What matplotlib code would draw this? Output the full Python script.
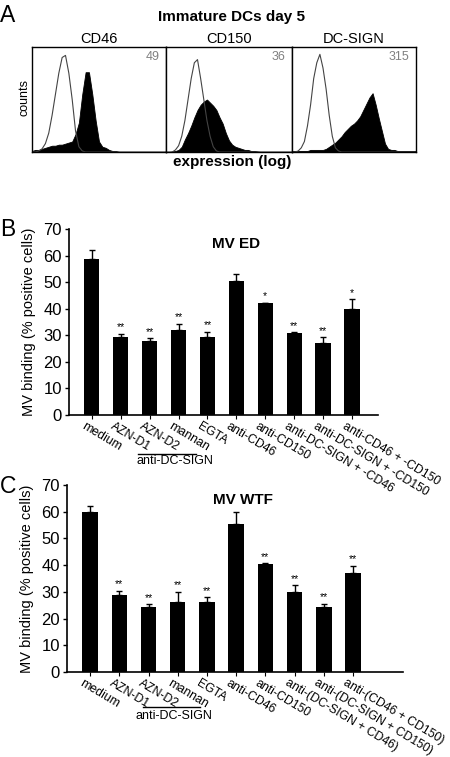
import numpy as np
import matplotlib
matplotlib.use('Agg')
import matplotlib.pyplot as plt
from matplotlib.lines import Line2D

plt.rcParams['font.family'] = ['Liberation Sans', 'DejaVu Sans']

# ---- panel A: flow cytometry histograms (heights read per channel, 41 channels) ----
hist_titles = ['CD46', 'CD150', 'DC-SIGN']
hist_mfi = ['49', '36', '315']
iso_cd46 = [0, 0, 1, 3, 8, 18, 35, 55, 75, 90, 92, 75, 50, 20, 5, 1, 0, 0, 0, 0, 0,
            0, 0, 0, 0, 0, 0, 0, 0, 0, 0, 0, 0, 0, 0, 0, 0, 0, 0, 0, 0]
pos_cd46 = [1, 2, 2, 3, 4, 5, 6, 6, 7, 7, 8, 9, 10, 17, 28, 55, 76, 76, 55, 30, 10,
            5, 4, 2, 1, 1, 0, 0, 0, 0, 0, 0, 0, 0, 0, 0, 0, 0, 0, 0, 0]
iso_cd150 = [0, 0, 0, 2, 6, 15, 30, 50, 70, 85, 88, 70, 50, 30, 15, 5, 1, 0, 0, 0, 0,
             0, 0, 0, 0, 0, 0, 0, 0, 0, 0, 0, 0, 0, 0, 0, 0, 0, 0, 0, 0]
pos_cd150 = [0, 0, 0.5, 1, 2, 5, 12, 18, 25, 33, 40, 45, 48, 50, 47, 44, 40, 33, 27, 18, 11,
             7, 5, 4, 3, 2, 2, 1, 1, 0.5, 0, 0, 0, 0, 0, 0, 0, 0, 0, 0, 0]
iso_dcsign = [0, 0, 1, 4, 10, 25, 45, 70, 85, 93, 80, 60, 35, 15, 4, 1, 0, 0, 0, 0, 0,
              0, 0, 0, 0, 0, 0, 0, 0, 0, 0, 0, 0, 0, 0, 0, 0, 0, 0, 0, 0]
pos_dcsign = [1, 1, 1, 1, 1, 1, 2, 2, 2, 2, 2, 3, 5, 7, 9, 12, 15, 19, 22, 25, 27,
              30, 34, 40, 46, 52, 56, 45, 32, 20, 8, 3, 2, 2, 1, 1, 1, 1, 1, 1, 1]
iso_all = [iso_cd46, iso_cd150, iso_dcsign]
pos_all = [pos_cd46, pos_cd150, pos_dcsign]

# ---- panels B and C: binding bars ----
labels_b = ['medium', 'AZN-D1', 'AZN-D2', 'mannan', 'EGTA', 'anti-CD46', 'anti-CD150',
            'anti-DC-SIGN + -CD46', 'anti-DC-SIGN + -CD150', 'anti-CD46 + -CD150']
labels_c = ['medium', 'AZN-D1', 'AZN-D2', 'mannan', 'EGTA', 'anti-CD46', 'anti-CD150',
            'anti-(DC-SIGN + CD46)', 'anti-(DC-SIGN + CD150)', 'anti-(CD46 + CD150)']
ed_mean = [58.8, 29.5, 27.7, 32.0, 29.3, 50.3, 42.0, 30.8, 27.0, 39.8]
ed_err = [3.2, 1.0, 1.1, 2.3, 2.0, 2.7, 0.3, 0.4, 2.2, 3.8]
ed_sig = ['', '**', '**', '**', '**', '', '*', '**', '**', '*']
wtf_mean = [60.0, 29.0, 24.2, 26.3, 26.2, 55.5, 40.5, 30.0, 24.5, 37.0]
wtf_err = [2.2, 1.4, 1.1, 3.7, 1.8, 4.5, 0.2, 2.5, 1.0, 2.8]
wtf_sig = ['', '**', '**', '**', '**', '', '**', '**', '**', '**']
yticks = [0, 10, 20, 30, 40, 50, 60, 70]

W, H = 450, 757
fig = plt.figure(figsize=(W / 100, H / 100), dpi=100)


def px_ax(x0, y0, x1, y1):
    # axes rectangle from pixel coords (top-left origin)
    return fig.add_axes([x0 / W, 1 - y1 / H, (x1 - x0) / W, (y1 - y0) / H])


def ftxt(x, y, s, **kw):
    fig.text(x / W, 1 - y / H, s, **kw)


# panel A
edges = [(32, 166), (166, 292), (292, 416)]
for k in range(3):
    ax = px_ax(edges[k][0], 47, edges[k][1], 152)
    ch = np.arange(len(iso_all[k]))
    ax.fill_between(ch, pos_all[k], 0, color='black', lw=0.6)
    ax.plot(ch, iso_all[k], color='#444444', lw=0.8)
    ax.set_xlim(0, 40)
    ax.set_ylim(0, 100)
    ax.set_xticks([])
    ax.set_yticks([])
    for s in ax.spines.values():
        s.set_linewidth(1.0)
    ax.text(0.95, 0.9, hist_mfi[k], transform=ax.transAxes, ha='right', va='center',
            fontsize=9, color='#808080')
    ftxt((edges[k][0] + edges[k][1]) / 2, 39, hist_titles[k], ha='center', va='center',
         fontsize=10.5)

ftxt(8, 16, 'A', ha='center', va='center', fontsize=16.5)
ftxt(231, 17, 'Immature DCs day 5', ha='center', va='center', fontsize=11, fontweight='bold')
ftxt(25, 98, 'counts', ha='center', va='center', fontsize=9, rotation=90)
ftxt(232, 162, 'expression (log)', ha='center', va='center', fontsize=11, fontweight='bold')


def bar_panel(rect, letter, letter_y, title, title_x, means, errs, sig, labels, xlim,
              grp_line, grp_text):
    ax = px_ax(*rect)
    ax.patch.set_visible(False)
    x = np.arange(len(means))
    ax.bar(x, means, width=0.53, color='black', zorder=2)
    ax.errorbar(x, means, yerr=[np.zeros(len(errs)), errs], fmt='none', ecolor='black',
                elinewidth=1.0, capsize=2.2, capthick=1.0, zorder=1)
    for i in range(len(means)):
        if sig[i]:
            ax.annotate(sig[i], (x[i], means[i] + errs[i]), xytext=(0, 1), textcoords='offset points',
                        ha='center', va='bottom', fontsize=7.5)
    ax.set_xlim(*xlim)
    ax.set_ylim(0, 70)
    ax.set_yticks(yticks)
    ax.tick_params(axis='y', direction='out', length=3, width=1, labelsize=12, pad=2)
    ax.set_xticks(x)
    ax.set_xticklabels([])
    ax.tick_params(axis='x', direction='out', length=3, width=0.8)
    ax.spines['top'].set_visible(False)
    ax.spines['right'].set_visible(False)
    ax.spines['left'].set_linewidth(1.2)
    ax.spines['bottom'].set_linewidth(1.2)
    for i, lab in enumerate(labels):
        ax.text(x[i] - 0.2, -0.026, lab, transform=ax.get_xaxis_transform(), rotation=-31,
                rotation_mode='anchor', ha='left', va='top', fontsize=8.8)
    ax.set_ylabel('MV binding (% positive cells)', fontsize=10.5, labelpad=5)
    ax.text(title_x, 64.5, title, ha='left', va='center', fontsize=11, fontweight='bold')
    tr = ax.get_xaxis_transform()
    ax.add_line(Line2D(grp_line[:2], [grp_line[2]] * 2, transform=tr, color='black',
                       lw=1.0, clip_on=False))
    ax.text(grp_text[0], grp_text[1], 'anti-DC-SIGN', transform=tr, ha='center', va='center',
            fontsize=9)
    ftxt(8, letter_y, letter, ha='center', va='center', fontsize=16.5)
    return ax


bar_panel((69, 229, 378, 415), 'B', 229, 'MV ED', 4.17, ed_mean, ed_err, ed_sig, labels_b,
          (-0.79, 9.9), (1.59, 3.59, -0.21), (2.86, -0.25))
bar_panel((67, 485, 403, 672), 'C', 487, 'MV WTF', 4.2, wtf_mean, wtf_err, wtf_sig, labels_c,
          (-0.79, 10.71), (1.82, 3.77, -0.187), (2.88, -0.235))

fig.savefig('out.png', dpi=100)
